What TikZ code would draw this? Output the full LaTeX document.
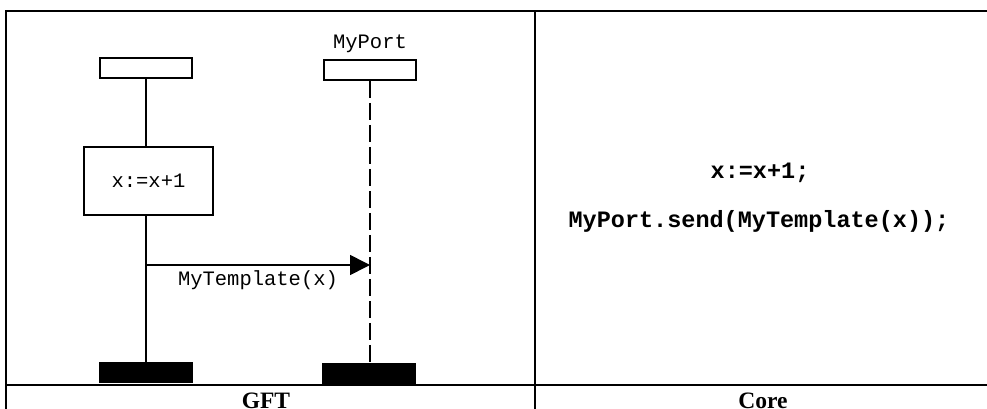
\documentclass[tikz,border=0pt]{standalone}
\usepackage{fontspec}
\setmainfont{Liberation Serif}
\setmonofont{Liberation Mono}
\usetikzlibrary{arrows.meta,positioning}
\tikzset{
  frame/.style={line width=2pt},
  head/.style={draw,line width=1.6pt,minimum width=92pt,minimum height=20pt,inner sep=0pt},
  endbar/.style={fill=black,minimum width=94pt,minimum height=21pt,inner sep=0pt},
  action/.style={draw,line width=1.6pt,minimum width=129pt,minimum height=68pt,inner sep=0pt,font=\fontsize{20.5}{24}\ttfamily},
  life/.style={line width=1.6pt},
  portlife/.style={line width=1.6pt,dash pattern=on 17pt off 5pt},
  msg/.style={line width=1.6pt,-{Triangle[length=20pt,width=20pt]}},
  gfttxt/.style={font=\fontsize{20.5}{24}\ttfamily},
  coretxt/.style={font=\fontsize{23.5}{28}\ttfamily\bfseries},
  caption/.style={font=\fontsize{23.5}{28}\bfseries}
}
\begin{document}
\begin{tikzpicture}[x=1pt,y=-1pt,>=Latex]
  \useasboundingbox (0,0) rectangle (987,409);
  % table lines
  \draw[frame] (6,409) -- (6,11) -- (987,11);
  \draw[frame] (535,11) -- (535,409);
  \draw[frame] (5,385) -- (987,385);
  % GFT side
  \node[head] (comp) at (146,68) {};
  \node[head] (port) at (370,70) {};
  \node[gfttxt,anchor=base] (portname) at (370,49) {MyPort};
  \node[action] (assign) at (148.5,181) {x:=x+1};
  \node[endbar] (compend) at (146,372.5) {};
  \node[endbar] (portend) at (369,373.5) {};
  \draw[life] (comp.south) -- (comp.south |- assign.north);
  \draw[life] (comp.south |- assign.south) -- (compend.north);
  \draw[portlife] (port.south) -- (port.south |- portend.north);
  \coordinate (sendpt) at (146,265);
  \coordinate (recvpt) at (370,265);
  \draw[msg] (sendpt) -- (recvpt)
    node[gfttxt,midway,anchor=base,yshift=-20pt] (msglabel) {MyTemplate(x)};
  % core side
  \node[coretxt,anchor=base] (coreassign) at (760,178) {x:=x+1;};
  \node[coretxt,anchor=base] (coresend) at (759,227) {MyPort.send(MyTemplate(x));};
  % captions
  \node[caption,anchor=base] (gftcap) at (266,408.5) {GFT};
  \node[caption,anchor=base] (corecap) at (763,408.5) {Core};
\end{tikzpicture}
\end{document}
